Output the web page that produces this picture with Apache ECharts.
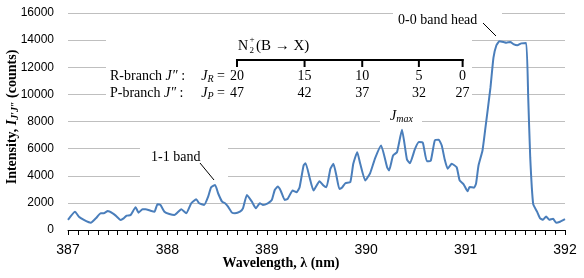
<!DOCTYPE html>
<html><head><meta charset="utf-8">
<script src="https://cdn.jsdelivr.net/npm/echarts@6/dist/echarts.min.js"></script>
<style>html,body{margin:0;padding:0;background:#fff}#c{width:584px;height:278px}</style>
</head><body><div id="c"></div>
<script>
const wavelength = [387.00,387.07,387.11,387.16,387.21,387.23,387.28,387.33,387.36,387.40,387.45,387.48,387.53,387.56,387.59,387.63,387.68,387.71,387.75,387.78,387.83,387.87,387.90,387.93,387.97,388.02,388.07,388.14,388.19,388.24,388.29,388.32,388.37,388.41,388.44,388.48,388.51,388.55,388.58,388.61,388.65,388.68,388.73,388.76,388.80,388.85,388.89,388.93,388.96,389.01,389.05,389.08,389.11,389.14,389.18,389.21,389.26,389.30,389.33,389.37,389.39,389.43,389.47,389.53,389.57,389.60,389.64,389.67,389.70,389.73,389.755,389.79,389.84,389.87,389.91,389.94,389.99,390.04,390.09,390.15,390.21,390.23,390.27,390.31,390.36,390.41,390.44,390.49,390.53,390.57,390.61,390.65,390.69,390.73,390.76,390.79,390.82,390.86,390.91,390.94,390.98,391.02,391.04,391.085,391.105,391.13,391.17,391.20,391.25,391.28,391.31,391.34,391.38,391.41,391.45,391.48,391.52,391.56,391.61,391.63,391.65,391.68,391.72,391.75,391.78,391.81,391.84,391.88,391.91,391.95,392.00];
const intensity = [750,1350,980,740,570,540,860,1230,1230,1400,1230,1060,740,860,1060,1100,1680,1280,1530,1530,1420,1350,1900,1850,1350,1180,1100,1530,1230,1970,2270,1970,1850,2460,3150,3320,2710,2090,1970,1720,1280,1230,1350,1600,2580,2090,1600,1970,1850,1970,2210,2950,3200,2900,2220,2300,2910,2790,3160,4760,4930,3890,2910,3600,3280,3160,4510,4880,4020,3030,3110,3450,3530,4880,5740,4880,3650,4200,5300,6230,4630,4390,5490,5740,7390,5200,4930,5960,6480,6430,5070,5120,6600,6650,6230,5200,4510,4880,4630,3650,3370,2850,3170,3120,3420,4760,5860,7560,10490,12690,13620,13910,13860,13810,13860,13710,13620,13760,13790,9760,5370,1900,1340,850,760,1000,760,830,540,610,800];
const jWavelength = [388.70, 389.38, 389.96, 390.53, 390.97];
const jR = ['20','15','10','5','0'];
const jP = ['47','42','37','32','27'];

const serif = '"Liberation Serif", "DejaVu Serif", serif';
const sans = '"Liberation Sans", "DejaVu Sans", sans-serif';
const chart = echarts.init(document.getElementById('c'), null, {renderer:'canvas'});
chart.setOption({
  animation:false,
  grid:{left:68,right:19,top:13,bottom:48},
  xAxis:{type:'value',min:387,max:392,interval:1,
    axisLine:{show:true,onZero:false,lineStyle:{color:'#000',width:1}},
    axisTick:{show:true,length:5,lineStyle:{color:'#000'}},
    minorTick:{show:true,splitNumber:10,length:5,lineStyle:{color:'#000'}},
    splitLine:{show:false},
    axisLabel:{color:'#000',fontFamily:sans,fontSize:14,margin:13,formatter:v=>String(Math.round(v))}},
  yAxis:{type:'value',min:0,max:16000,interval:2000,
    axisLine:{show:false},axisTick:{show:false},
    splitLine:{lineStyle:{color:'#bfbfbf',width:1}},
    axisLabel:{color:'#000',fontFamily:sans,fontSize:12,margin:14,formatter:v=>String(Math.round(v))}},
  series:[{type:'line',data:wavelength.map((w,i)=>[w,intensity[i]]),showSymbol:false,smooth:0.15,
    lineStyle:{color:'#4a7ebb',width:2},z:5}]
});

const px = w => chart.convertToPixel({xAxisIndex:0}, w);
const T = (text, x, y, opt) => Object.assign({type:'text', z:10, style:Object.assign({text, x, y, fill:'#000', fontFamily:serif, fontSize:14, align:'left', verticalAlign:'middle'}, opt||{})});
const L = (x1,y1,x2,y2,w) => ({type:'line', z:10, shape:{x1,y1,x2,y2}, style:{stroke:'#000', lineWidth:w||1}});
const R = (x,y,w,h) => ({type:'rect', z:1, shape:{x,y,width:w,height:h}, style:{fill:'#fff'}});

const els = [];
els.push(R(106,30,366,72));
els.push(R(393,6,109,20));
els.push(R(140,140,88,46));
els.push(R(380,112,42,14));
const bx = jWavelength.map(px);
const by = 60;
els.push(L(bx[0]-1, by, bx[bx.length-1]+1, by, 2));
bx.forEach(x => els.push(L(x, by-1, x, by+7, 2)));
bx.forEach((x,i) => {
  els.push(T(jR[i], x, 76, {align:'center'}));
  els.push(T(jP[i], x, 93, {align:'center'}));
});
const rich = {
  n:{fontFamily:serif, fontSize:14, fill:'#000'},
  i:{fontFamily:serif, fontSize:14, fontStyle:'italic', fill:'#000'},
  s:{fontFamily:serif, fontSize:10, fontStyle:'italic', fill:'#000', verticalAlign:'bottom', padding:[6,0,0,0]}
};
els.push(T('{n|R-branch }{i|J″}{n| :}', 110, 76, {rich}));
els.push(T('{n|P-branch }{i|J″}{n| :}', 110, 93, {rich}));
els.push(T('{i|J}{s|R}{n| =}', 225, 76, {rich, align:'right'}));
els.push(T('{i|J}{s|P}{n| =}', 225, 93, {rich, align:'right'}));
els.push(T('N', 238, 46));
els.push(T('+', 249.5, 40, {fontSize:9}));
els.push(T('2', 249.5, 51, {fontSize:9}));
els.push(T('(B → X)', 256, 46, {fontSize:15}));
els.push(T('0-0 band head', 398, 20));
els.push(L(483, 23, 496, 36));
els.push(T('1-1 band', 151, 157));
els.push(L(200, 163, 214, 180));
els.push(T('{i|J}{s|max}', 390, 116, {rich}));
els.push(T('Wavelength, λ (nm)', 281, 263, {align:'center', fontWeight:'bold', fontSize:14}));
els.push({type:'text', z:10, x:12, y:117, rotation:Math.PI/2, style:{
  text:'{b|Intensity, }{bi|I}{bs|J′J″}{b| (counts)}', x:0, y:0, align:'center', verticalAlign:'middle',
  rich:{
    b:{fontFamily:serif, fontSize:14, fontWeight:'bold', fill:'#000'},
    bi:{fontFamily:serif, fontSize:14, fontWeight:'bold', fontStyle:'italic', fill:'#000'},
    bs:{fontFamily:serif, fontSize:10, fontWeight:'bold', fontStyle:'italic', fill:'#000', verticalAlign:'bottom', padding:[6,0,0,0]}
  }}});
chart.setOption({graphic:{elements:els}});
</script></body></html>
